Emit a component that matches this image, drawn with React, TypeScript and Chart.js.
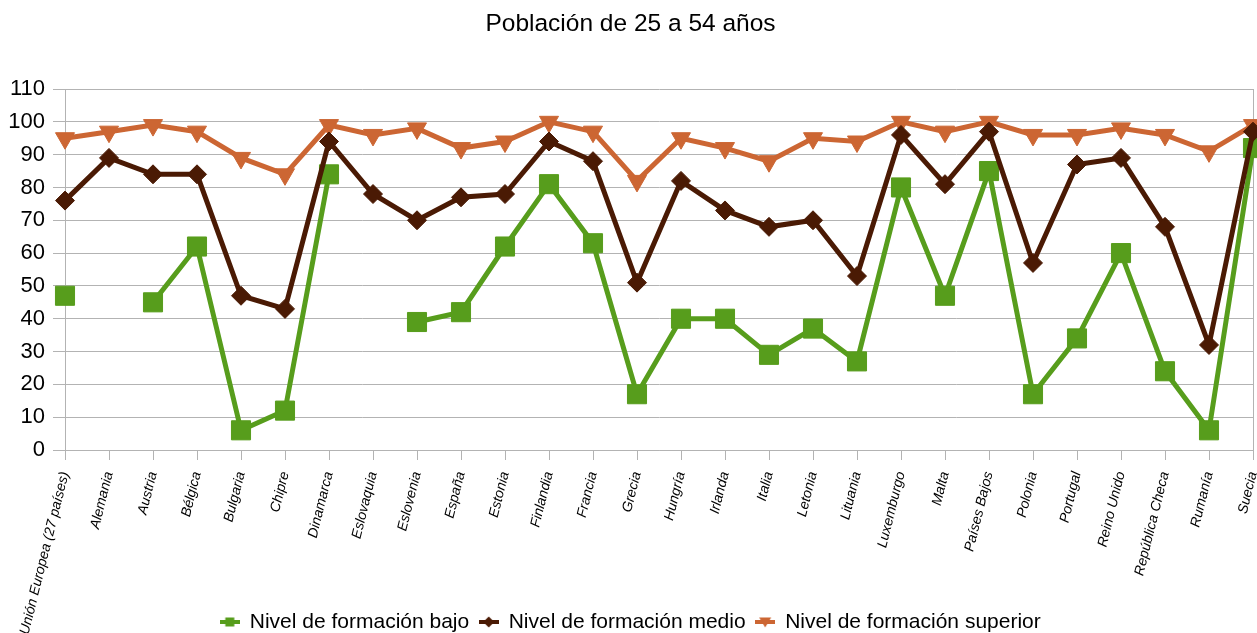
import { useEffect, useRef } from 'react';
import { Chart, registerables } from 'chart.js';

Chart.register(...registerables);

const categories = [
  'Unión Europea (27 países)', 'Alemania', 'Austria', 'Bélgica', 'Bulgaria', 'Chipre', 'Dinamarca',
  'Eslovaquia', 'Eslovenia', 'España', 'Estonia', 'Finlandia', 'Francia', 'Grecia', 'Hungría',
  'Irlanda', 'Italia', 'Letonia', 'Lituania', 'Luxemburgo', 'Malta', 'Países Bajos', 'Polonia',
  'Portugal', 'Reino Unido', 'República Checa', 'Rumanía', 'Suecia',
];

const bajo: (number | null)[] = [
  47, null, 45, 62, 6, 12, 84, null, 39, 42, 62, 81, 63, 17, 40,
  40, 29, 37, 27, 80, 47, 85, 17, 34, 60, 24, 6, 92,
];

const medio = [
  76, 89, 84, 84, 47, 43, 94, 78, 70, 77, 78, 94, 88, 51, 82,
  73, 68, 70, 53, 96, 81, 97, 57, 87, 89, 68, 32, 97,
];

const superior = [
  95, 97, 99, 97, 89, 84, 99, 96, 98, 92, 94, 100, 97, 82, 95,
  92, 88, 95, 94, 100, 97, 100, 96, 96, 98, 96, 91, 99,
];

const seriesNames = ['Nivel de formación bajo', 'Nivel de formación medio', 'Nivel de formación superior'];

const yMin = 0;
const yMax = 110;
const yStep = 10;

const GREEN = '#579d1c';
const BROWN = '#4a1a04';
const ORANGE = '#cc6633';
const AXIS = '#b3b3b3';
const FONT = '"Liberation Sans", Arial, sans-serif';

function makeIcon(color: string, kind: 'square' | 'diamond' | 'triangle') {
  const c = document.createElement('canvas');
  c.width = 20;
  c.height = 14;
  const ctx = c.getContext('2d')!;
  ctx.fillStyle = color;
  ctx.strokeStyle = color;
  ctx.lineWidth = 4;
  ctx.beginPath();
  ctx.moveTo(0, 7);
  ctx.lineTo(20, 7);
  ctx.stroke();
  ctx.beginPath();
  if (kind === 'square') {
    ctx.rect(5.5, 2.5, 9, 9);
  } else if (kind === 'diamond') {
    ctx.moveTo(10, 1.5);
    ctx.lineTo(15.5, 7);
    ctx.lineTo(10, 12.5);
    ctx.lineTo(4.5, 7);
    ctx.closePath();
  } else {
    ctx.moveTo(4, 2.5);
    ctx.lineTo(16, 2.5);
    ctx.lineTo(10, 12.5);
    ctx.closePath();
  }
  ctx.fill();
  return c;
}

// Let the rotated category labels run down to the bottom of the canvas (as in the original).
const labelClip = {
  id: 'labelClip',
  afterLayout(chart: any) {
    const x = chart.scales.x;
    if (x) x.bottom = chart.height;
  },
};

export default function App() {
  const ref = useRef<HTMLCanvasElement | null>(null);

  useEffect(() => {
    if (!ref.current) return;
    const icons = [makeIcon(GREEN, 'square'), makeIcon(BROWN, 'diamond'), makeIcon(ORANGE, 'triangle')];
    const chart = new Chart(ref.current, {
      type: 'line',
      plugins: [labelClip],
      data: {
        labels: categories,
        datasets: [
          {
            label: seriesNames[0],
            data: bajo,
            borderColor: GREEN,
            backgroundColor: GREEN,
            borderWidth: 5,
            pointStyle: 'rect',
            pointRadius: 13.5,
            pointBorderWidth: 1,
            pointBorderColor: GREEN,
            pointBackgroundColor: GREEN,
            spanGaps: false,
            clip: false,
            order: 1,
          },
          {
            label: seriesNames[1],
            data: medio,
            borderColor: BROWN,
            backgroundColor: BROWN,
            borderWidth: 5,
            pointStyle: 'rectRot',
            pointRadius: 9.5,
            pointBorderWidth: 1,
            pointBorderColor: BROWN,
            pointBackgroundColor: BROWN,
            clip: false,
            order: 0,
          },
          {
            label: seriesNames[2],
            data: superior,
            borderColor: ORANGE,
            backgroundColor: ORANGE,
            borderWidth: 5,
            pointStyle: 'triangle',
            pointRotation: 180,
            pointRadius: 11,
            pointBorderWidth: 1,
            pointBorderColor: ORANGE,
            pointBackgroundColor: ORANGE,
            clip: false,
            order: 2,
          },
        ],
      },
      options: {
        responsive: false,
        animation: false,
        events: [],
        layout: { autoPadding: false, padding: { left: 8, right: 4, top: 0, bottom: 0 } },
        plugins: {
          title: {
            display: true,
            text: 'Población de 25 a 54 años',
            color: '#000',
            font: { family: FONT, size: 24.5, weight: 'normal' },
            padding: { top: 10, bottom: 49.6 },
          },
          legend: {
            display: true,
            position: 'bottom',
            maxHeight: 31.5,
            labels: {
              usePointStyle: true,
              pointStyleWidth: 19,
              color: '#000',
              padding: 10,
              font: { family: FONT, size: 21 },
              sort: (a: any, b: any) => a.datasetIndex - b.datasetIndex,
              generateLabels: (ch: any) => {
                const items = (Chart.defaults.plugins.legend.labels as any).generateLabels(ch);
                items.forEach((it: any) => {
                  it.pointStyle = icons[it.datasetIndex];
                  it.rotation = 0;
                });
                return items;
              },
            },
          },
          tooltip: { enabled: false },
        },
        scales: {
          x: {
            type: 'category',
            offset: false,
            grid: { display: true, drawOnChartArea: false, drawTicks: true, tickLength: 10, color: AXIS },
            border: { display: true, color: AXIS },
            ticks: {
              autoSkip: false,
              maxRotation: 76,
              minRotation: 76,
              padding: 10,
              color: '#000',
              font: { family: FONT, size: 14, style: 'italic' },
            },
            afterFit: (s: any) => {
              s.height = 151.5;
              s.paddingLeft = 0;
              s.paddingRight = 0;
            },
          },
          y: {
            min: yMin,
            max: yMax,
            grid: { color: AXIS, tickLength: 12 },
            border: { display: true, color: AXIS },
            ticks: {
              stepSize: yStep,
              padding: 8,
              color: '#000',
              font: { family: FONT, size: 22 },
            },
            afterFit: (s: any) => {
              s.width = 57;
            },
          },
          y2: {
            position: 'right',
            display: true,
            grid: { display: true, drawOnChartArea: false, drawTicks: false },
            border: { display: true, color: AXIS },
            ticks: { display: false },
            afterFit: (s: any) => {
              s.width = 0;
            },
          },
        },
      },
    } as any);
    return () => chart.destroy();
  }, []);

  return (
    <div style={{ position: 'absolute', left: 0, top: 0, width: 1257, height: 633, background: '#fff' }}>
      <canvas ref={ref} width={1257} height={633} style={{ display: 'block' }} />
    </div>
  );
}
